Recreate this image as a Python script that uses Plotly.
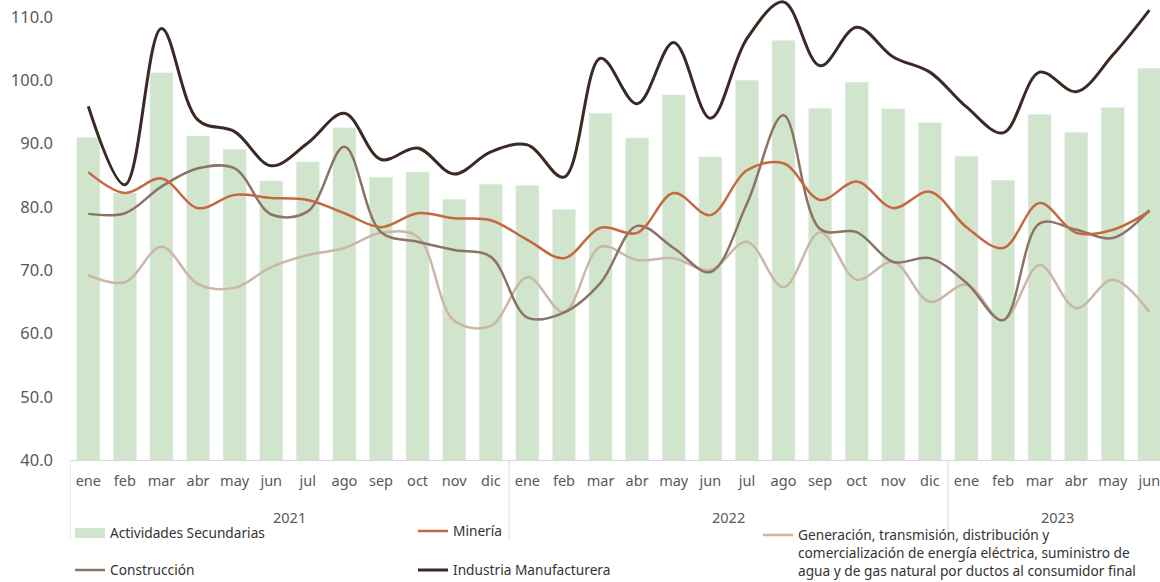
import plotly.graph_objects as go

months = ["ene", "feb", "mar", "abr", "may", "jun", "jul", "ago", "sep", "oct", "nov", "dic"]
month_labels = months * 2 + months[:6]
years = ["2021", "2022", "2023"]
year_counts = [12, 12, 6]

actividades = [91.0, 82.2, 101.2, 91.2, 89.1, 84.1, 87.1, 92.5, 84.7, 85.5, 81.2, 83.6,
               83.4, 79.6, 94.8, 90.9, 97.7, 87.9, 100.0, 106.3, 95.6, 99.7, 95.5, 93.3,
               88.0, 84.2, 94.6, 91.8, 95.7, 101.9]
mineria = [85.5, 82.2, 84.5, 79.8, 81.9, 81.4, 81.1, 79.0, 76.8, 79.0, 78.2, 77.9,
           74.8, 71.9, 76.7, 75.9, 82.2, 78.7, 85.8, 86.9, 81.1, 84.0, 79.8, 82.4,
           76.8, 73.5, 80.6, 75.9, 76.4, 79.3]
generacion = [69.2, 68.1, 73.7, 67.8, 67.2, 70.5, 72.4, 73.5, 75.9, 75.3, 62.0, 61.2,
              68.9, 63.4, 73.7, 71.6, 71.9, 70.0, 74.5, 67.3, 76.0, 68.5, 71.3, 65.0,
              67.7, 62.1, 70.8, 64.0, 68.5, 63.4]
construccion = [78.9, 79.0, 83.2, 86.1, 86.1, 78.8, 79.3, 89.5, 76.0, 74.5, 73.2, 72.1,
                62.5, 63.3, 68.0, 77.0, 73.5, 69.7, 80.5, 94.5, 76.5, 76.0, 71.3, 71.9,
                68.0, 62.1, 77.4, 76.4, 75.1, 79.5]
manufacturera = [95.9, 83.5, 108.2, 93.7, 91.9, 86.5, 90.1, 94.8, 87.5, 89.3, 85.2, 88.7,
                 89.8, 84.7, 103.5, 96.3, 106.0, 94.0, 106.6, 112.4, 102.3, 108.4, 103.7, 101.3,
                 95.8, 91.7, 101.3, 98.2, 104.0, 111.1]

idx = list(range(len(month_labels)))
FONT = "Noto Sans"
GREEN = "#d0e5cc"

fig = go.Figure()
fig.add_trace(go.Bar(x=idx, y=actividades, name="Actividades Secundarias",
                     marker_color=GREEN, showlegend=False))
# legend swatch for the bars (wide rectangle as in the reference)
fig.add_trace(go.Scatter(x=[None], y=[None], mode="lines", name="Actividades Secundarias",
                         line=dict(color=GREEN, width=12), legend="legend6"))
fig.add_trace(go.Scatter(x=idx, y=generacion, mode="lines", line_shape="spline",
                         line=dict(color="#cbb7a5", width=2.5),
                         name="Generación, transmisión, distribución y<br>comercialización de energía eléctrica, suministro de<br>agua y de gas natural por ductos al consumidor final",
                         legend="legend3"))
fig.add_trace(go.Scatter(x=idx, y=construccion, mode="lines", line_shape="spline",
                         line=dict(color="#8c7464", width=2.5), name="Construcción",
                         legend="legend4"))
fig.add_trace(go.Scatter(x=idx, y=mineria, mode="lines", line_shape="spline",
                         line=dict(color="#c4683f", width=2.5), name="Minería",
                         legend="legend2"))
fig.add_trace(go.Scatter(x=idx, y=manufacturera, mode="lines", line_shape="spline",
                         line=dict(color="#3a2a24", width=3), name="Industria Manufacturera",
                         legend="legend5"))

H, W = 582.0, 1160.0


def cy(p):
    return 1 - p / H


def cx(p):
    return p / W


leg_common = dict(font=dict(family=FONT, size=13.7, color="#333333"),
                  bgcolor="rgba(0,0,0,0)", xanchor="left", yanchor="middle",
                  xref="container", yref="container",
                  itemclick=False, itemdoubleclick=False)

# year group labels and dividers
annotations = []
shapes = []
start = 0
for yr, n in zip(years, year_counts):
    annotations.append(dict(x=start + (n - 1) / 2, y=(460 - 517) / 460, xref="x", yref="paper",
                            text=yr, showarrow=False, yanchor="middle",
                            font=dict(family=FONT, size=14.5, color="#595959")))
    start += n
for b in [-0.5, 11.5, 23.5]:
    shapes.append(dict(type="line", xref="x", yref="paper", x0=b, x1=b,
                       y0=0, y1=-0.174, line=dict(color="#dcdcdc", width=1)))

fig.update_layout(
    width=1160, height=582,
    margin=dict(l=70, r=0, t=0, b=122, autoexpand=False),
    plot_bgcolor="white", paper_bgcolor="white",
    bargap=0.37,
    font=dict(family=FONT, color="#595959"),
    xaxis=dict(range=[-0.5, 29.29], showgrid=False, zeroline=False,
               tickmode="array", tickvals=idx, ticktext=month_labels,
               showline=True, linecolor="#d9d9d9", linewidth=1,
               ticks="", ticklabelstandoff=8, ticklabeloverflow="allow",
               tickfont=dict(family=FONT, size=14.5, color="#595959")),
    yaxis=dict(range=[40, 112.7], tickvals=[40, 50, 60, 70, 80, 90, 100, 110],
               tickformat=".1f", showgrid=False, zeroline=False, showline=False,
               ticks="", ticklabelstandoff=16,
               tickfont=dict(family=FONT, size=16.5, color="#595959")),
    annotations=annotations,
    shapes=shapes,
    legend=dict(visible=False),
    legend6=dict(x=cx(70), y=cy(533), **leg_common),
    legend2=dict(x=cx(413), y=cy(531), **leg_common),
    legend3=dict(x=cx(758), y=cy(553), valign="top", **leg_common),
    legend4=dict(x=cx(70), y=cy(570), **leg_common),
    legend5=dict(x=cx(413), y=cy(570), **leg_common),
)

fig.write_html("out.html", config={"displayModeBar": False},
               post_script="document.body.style.margin='0';")
